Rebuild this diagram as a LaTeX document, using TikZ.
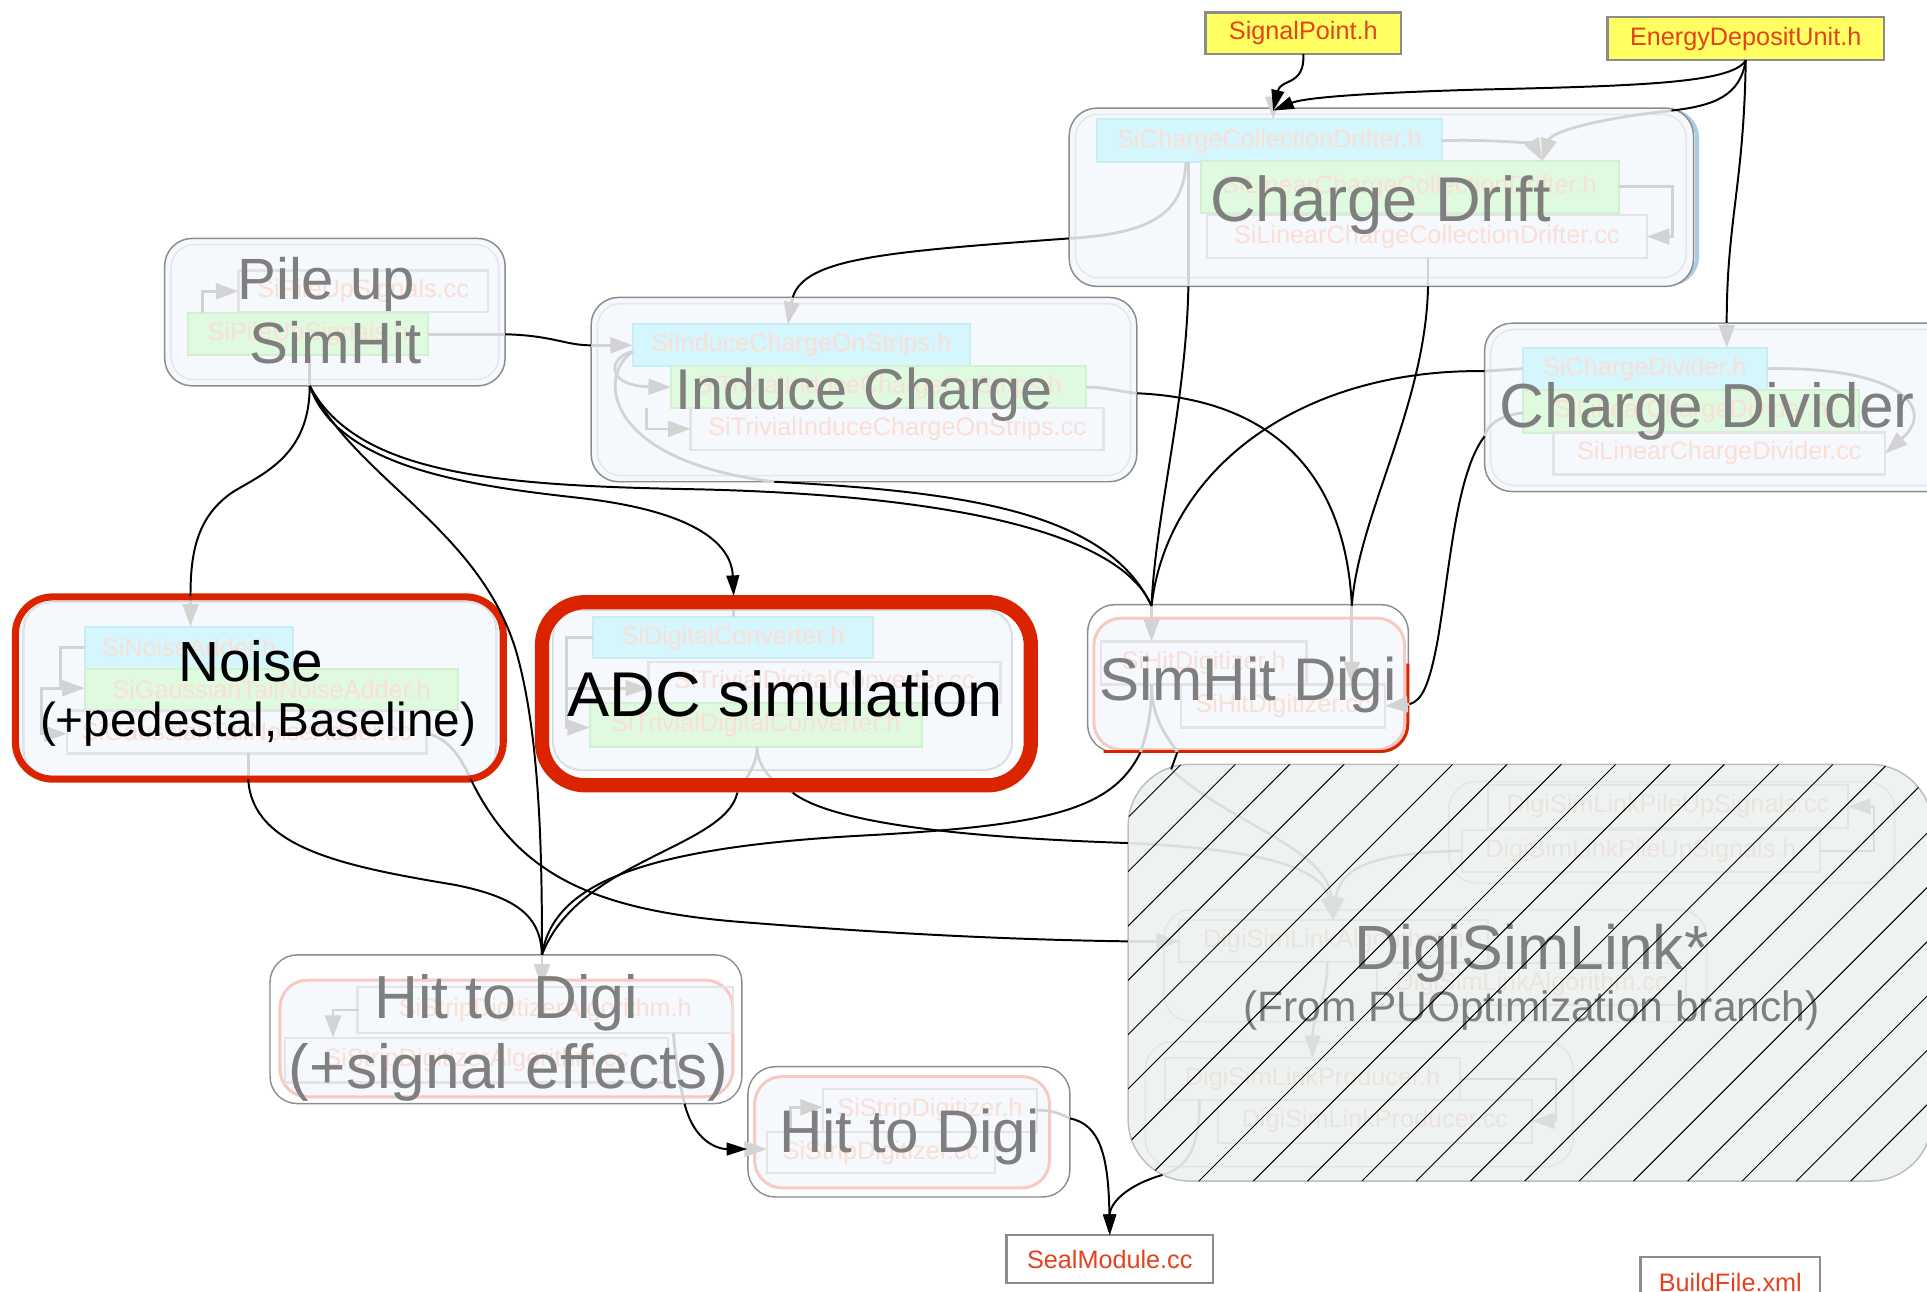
\documentclass[tikz,border=0pt]{standalone}
\usepackage{fontspec}
\setmainfont{Liberation Sans}
\usetikzlibrary{arrows.meta}

\definecolor{clfill}{HTML}{F5F8FC}
\definecolor{clline}{HTML}{8C8C8C}
\definecolor{clinner}{HTML}{E3E8EE}
\definecolor{hfill}{HTML}{D6F6FD}
\definecolor{hline}{HTML}{C8EDF6}
\definecolor{gfill}{HTML}{E0FADF}
\definecolor{gline}{HTML}{D2F0D2}
\definecolor{ccline}{HTML}{E4E4E4}
\definecolor{ftext}{HTML}{FADFD6}
\definecolor{lbltext}{HTML}{7F7F7F}
\definecolor{inedge}{HTML}{D3D3D3}
\definecolor{yfill}{HTML}{FFFF62}
\definecolor{ytext}{HTML}{E4411C}
\definecolor{redbd}{HTML}{DA2400}
\definecolor{pinkbd}{HTML}{F7C9C0}
\definecolor{dslfill}{HTML}{EEF2F1}
\definecolor{dslline}{HTML}{BEBEBE}
\definecolor{dsltext}{HTML}{EBE4DE}
\definecolor{dslbox}{HTML}{E2E6E6}
\definecolor{dsledge}{HTML}{DADEDE}
\definecolor{cdshadow}{HTML}{A9CCE3}

\newcommand\fsmall{\fontsize{7.3pt}{8pt}\selectfont}
\newcommand\fbig[1]{\fontsize{#1pt}{#1pt}\selectfont}

% node placed by its corners (x1,y1)-(x2,y2)
\newcommand\boxat[7]{\node[#1,minimum width={(#5-#3)*0.125mm},minimum height={(#6-#4)*0.125mm}] (#2) at ({(#3+#5)/2},{(#4+#6)/2}) {#7};}

\tikzset{
  every node/.style={inner sep=0pt, outer sep=0pt},
  cluster/.style={draw=clline, fill=clfill, line width=0.15mm, rounded corners=2.8mm},
  clin/.style={draw=clinner, line width=0.15mm, rounded corners=2.4mm},
  hbox/.style={draw=hline, fill=hfill, line width=0.2mm, font=\fsmall, text=ftext},
  gbox/.style={draw=gline, fill=gfill, line width=0.2mm, font=\fsmall, text=ftext},
  cbox/.style={draw=ccline, line width=0.25mm, font=\fsmall, text=ftext},
  dbox/.style={draw=dslbox, line width=0.2mm, font=\fsmall, text=dsltext},
  dsub/.style={draw=dslbox, line width=0.15mm, rounded corners=2.8mm},
  filebox/.style={draw=clline, fill=white, line width=0.25mm, font=\fsmall, text=ytext},
  ybox/.style={filebox, fill=yfill},
  lbl/.style={text=lbltext, anchor=base},
  blbl/.style={text=black, anchor=base},
  blk/.style={draw=black, line width=0.2mm},
  blkarr/.style={blk, -{Triangle[length=2.1mm,width=1.3mm]}},
  gry/.style={draw=inedge, line width=0.28mm},
  gryarr/.style={gry, -{Triangle[length=2.3mm,width=1.6mm]}},
  dgry/.style={draw=dsledge, line width=0.25mm},
  dgryarr/.style={dgry, -{Triangle[length=2.3mm,width=1.6mm]}},
  pinkin/.style={draw=pinkbd, fill=clfill, line width=0.3mm, rounded corners=2.8mm},
  hatchline/.style={draw=black, line width=0.28pt},
}

\begin{document}
\begin{tikzpicture}[x=0.125mm,y=-0.125mm]
\useasboundingbox (0,0) rectangle (1568,1051);
\fill[white] (0,0) rectangle (1568,1051);
\clip (0,0) rectangle (1568,1051);

% ---------- header files ----------
\boxat{ybox}{sp}{981}{10}{1140}{44}{SignalPoint.h}
\boxat{ybox}{edu}{1308}{14}{1533}{49}{EnergyDepositUnit.h}

% ---------- border crossing points ----------
\coordinate (cdT1) at (1036,90);
\coordinate (cdT2) at (1360,90);
\coordinate (cdL)  at (870,194);
\coordinate (cdB1) at (967,233);
\coordinate (cdB2) at (1162,233);
\coordinate (puR)  at (411,272);
\coordinate (puB)  at (252,314);
\coordinate (icL)  at (481,281);
\coordinate (icT)  at (645,242);
\coordinate (icR)  at (925,320);
\coordinate (icB)  at (630,392);
\coordinate (cvT)  at (1405,263);
\coordinate (cvL1) at (1208,302);
\coordinate (cvL2) at (1208,355);
\coordinate (sdT1) at (937,493);
\coordinate (sdT2) at (1100,493);
\coordinate (sdR)  at (1147,573);
\coordinate (sdB1) at (928,612);
\coordinate (sdB2) at (958,612);
\coordinate (noT)  at (155,485);
\coordinate (noB1) at (202,634);
\coordinate (noB2) at (383,634);
\coordinate (adT)  at (597,485);
\coordinate (adB1) at (600,645);
\coordinate (adB2) at (645,645);
\coordinate (hdaT) at (441,777);
\coordinate (hdaB) at (557,898);
\coordinate (hdbL) at (608,935);
\coordinate (hdbR) at (870.6,910);
\coordinate (dslL1) at (918,686);
\coordinate (dslL2) at (918,766);
\coordinate (dslT) at (953,626);
\coordinate (dslB) at (946,956);

% ---------- Charge Drift ----------
\draw[cdshadow, line width=0.4mm, rounded corners=2.8mm] (873,90) rectangle (1381,231);
\boxat{cluster}{cd}{870}{88}{1378}{233}{}
\draw[clin] (875,93) rectangle (1372,226);
\boxat{hbox}{cdh}{893}{97}{1173}{132}{SiChargeCollectionDrifter.h}
\boxat{gbox}{cdlh}{977}{131}{1317}{173}{SiLinearChargeCollectionDrifter.h}
\boxat{cbox}{cdcc}{982}{175}{1340}{210}{SiLinearChargeCollectionDrifter.cc}
\draw[gryarr] (cdT1) -- (cdT1 |- cdh.north);
\draw[gryarr] (cdh.east) .. controls (1220,113) and (1248,118) .. (1255,0 |- cdlh.north);
\draw[gryarr] (cdT2) .. controls (1295,97) and (1262,108) .. (1255,0 |- cdlh.north);
\draw[gryarr] (cdlh.east) -- (1361,0 |- cdlh.east) -- (1361,0 |- cdcc.east) -- (cdcc.east);
\draw[gry] (965,0 |- cdh.south) .. controls (963,175) and (935,190) .. (cdL);
\draw[gry] (967,0 |- cdh.south) -- (cdB1);
\draw[gry] (cdcc.south -| cdB2) -- (cdB2);
\node[lbl, font=\fbig{18.3}] (cdlbl) at (1123.5,180) {Charge Drift};

% ---------- Pile up ----------
\boxat{cluster}{pu}{134}{194}{411}{314}{}
\draw[clin] (139,199) rectangle (406,309);
\boxat{cbox}{pucc}{194}{220}{397}{254}{SiPileUpSignals.cc}
\boxat{gbox}{puh}{153}{255}{348}{289}{SiPileUpSignals.h}
\draw[gryarr] (165,0 |- puh.north) -- (165,237) -- (pucc.west |- 0,237);
\draw[gry] (puh.east) -- (puR);
\draw[gry] (puh.south -| puB) -- (puB);
\node[lbl, font=\fbig{16.85}] (pulbla) at (265.5,244) {Pile up};
\node[lbl, font=\fbig{16.85}] (pulblb) at (273,296) {SimHit};

% ---------- Induce Charge ----------
\boxat{cluster}{ic}{481}{242}{925}{392}{}
\draw[clin] (486,247) rectangle (920,387);
\boxat{hbox}{ich}{515}{264}{789}{298}{SiInduceChargeOnStrips.h}
\boxat{gbox}{icth}{546}{298}{884}{332}{SiTrivialInduceChargeOnStrips.h}
\boxat{cbox}{iccc}{562}{332}{898}{366}{SiTrivialInduceChargeOnStrips.cc}
\draw[gryarr] (icL) -- (ich.west |- icL);
\draw[gryarr] (icT) -- (641,0 |- ich.north);
\draw[gryarr] (ich.west |- 0,286) .. controls (495,290) and (492,314) .. (icth.west |- 0,315);
\draw[gryarr] (526,0 |- icth.south) -- (526,349) -- (iccc.west |- 0,349);
\draw[gry] (ich.west |- 0,286) .. controls (486,305) and (490,375) .. (icB);
\draw[gry] (icth.east) .. controls (900,315) and (912,319) .. (icR);
\node[lbl, font=\fbig{16.65}] (iclbl) at (703,333) {Induce Charge};

% ---------- Charge Divider ----------
\boxat{cluster}{cv}{1208}{263}{1600}{400}{}
\draw[clin] (1213,268) rectangle (1595,395);
\boxat{hbox}{cvh}{1239}{283}{1438}{317}{SiChargeDivider.h}
\boxat{gbox}{cvlh}{1239}{317}{1513}{352}{SiLinearChargeDivider.h}
\boxat{cbox}{cvcc}{1264}{352}{1534}{386}{SiLinearChargeDivider.cc}
\draw[gryarr] (cvT) -- (cvT |- cvh.north);
\draw[gryarr] (cvh.east) .. controls (1540,298) and (1578,330) .. (cvcc.east);
\draw[gry] (cvh.west) -- (cvL1);
\draw[gry] (cvlh.west |- 0,336) .. controls (1220,338) and (1210,346) .. (cvL2);
\node[lbl, font=\fbig{18.0}] (cvlbl) at (1389,348) {Charge Divider};

% ---------- SimHit Digi ----------
\boxat{cluster}{sd}{885}{492}{1146}{612}{}
\fill[white, rounded corners=2.6mm] (886,493) rectangle (1145,611);
\draw[pinkin] (890,503) rectangle (1143,610);
\draw[redbd, line width=0.3mm, rounded corners=2.8mm] (898,611.5) -- (1145.5,611.5) -- (1145.5,540);
\boxat{cbox}{sdh}{896}{522}{1063}{557}{SiHitDigitizer.h}
\boxat{cbox}{sdcc}{961}{557}{1127}{592}{SiHitDigitizer.cc}
\draw[gryarr] (sdT1) -- (sdT1 |- sdh.north);
\draw[gryarr] (sdT2) -- (sdT2 |- sdcc.north);
\draw[gryarr] (sdR) -- (sdcc.east);
\draw[gry] (937,0 |- sdh.south) .. controls (937,585) and (932,600) .. (sdB1);
\draw[gry] (937,0 |- sdh.south) .. controls (937,585) and (950,600) .. (sdB2);
\node[lbl, font=\fbig{17.4}] (sdlbl) at (1015.5,569.6) {SimHit Digi};

% ---------- Noise ----------
\boxat{cluster}{no}{19}{490}{404}{632}{}
\draw[draw=clinner, line width=0.15mm, rounded corners=2.8mm] (19,490) rectangle (404,632);
\boxat{hbox}{noh}{69}{510}{238.5}{544}{SiNoiseAdder.h}
\boxat{gbox}{nogh}{69}{544}{373}{578}{SiGaussianTailNoiseAdder.h}
\boxat{cbox}{nocc}{54.5}{578}{347}{613}{SiGaussianTailNoiseAdder.cc}
\draw[gryarr] (noT) -- (noT |- noh.north);
\draw[gryarr] (noh.west) -- (49,0 |- noh.west) -- (49,560) -- (nogh.west |- 0,560);
\draw[gryarr] (49,560) -- (34,560) -- (34,597) -- (nocc.west |- 0,597);
\draw[gry] (202,0 |- nocc.south) -- (noB1);
\draw[gry] (nocc.east |- 0,597) .. controls (365,600) and (376,618) .. (noB2);
\draw[redbd, line width=0.72mm, rounded corners=3.8mm] (12.5,485.7) rectangle (409.5,634);
\node[blbl, font=\fbig{16.4}] (nolbla) at (204,554.6) {Noise};
\node[blbl, font=\fbig{13.8}] (nolblb) at (210,599.6) {(+pedestal,Baseline)};

% ---------- ADC simulation ----------
\boxat{cluster}{ad}{450}{496}{823.5}{626.5}{}
\draw[draw=clinner, line width=0.15mm, rounded corners=2.8mm] (450,496) rectangle (823.5,626.5);
\boxat{hbox}{adh}{482.5}{502}{710.5}{535.5}{SiDigitalConverter.h}
\boxat{cbox}{adcc}{527.5}{538.5}{814}{572}{SiTrivialDigitalConverter.cc}
\boxat{gbox}{adth}{480}{572}{750}{607.5}{SiTrivialDigitalConverter.h}
\draw[gry] (adT) -- (adT |- adh.north);
\draw[gryarr] (adh.west) -- (461,0 |- adh.west) -- (461,592) -- (adth.west |- 0,592);
\draw[gryarr] (461,560) -- (adcc.west |- 0,560);
\draw[gry] (616,0 |- adth.south) .. controls (616,625) and (605,635) .. (adB1);
\draw[gry] (616,0 |- adth.south) .. controls (616,625) and (630,638) .. (adB2);
\draw[redbd, line width=1.45mm, rounded corners=4.4mm] (441,490) rectangle (838.8,639);
\node[blbl, font=\fbig{18.3}] (adlbl) at (639,583.4) {ADC simulation};

% ---------- Hit to Digi (+signal effects) ----------
\boxat{cluster}{hda}{219.7}{777}{603.7}{898}{}
\fill[white, rounded corners=2.6mm] (220.7,778) rectangle (602.7,897);
\draw[pinkin] (227.8,797.5) rectangle (596.4,892.5);
\boxat{cbox}{hdah}{291}{803}{596.4}{840.5}{SiStripDigitizerAlgorithm.h}
\boxat{cbox}{hdacc}{232}{844.6}{543.5}{881}{SiStripDigitizerAlgorithm.cc}
\draw[gryarr] (hdaT) -- (hdaT |- hdah.north);
\draw[gryarr] (hdah.west) -- (271,0 |- hdah.west) -- (271,0 |- hdacc.north);
\draw[gry] (548,0 |- hdah.south) .. controls (550,870) and (554,885) .. (hdaB);
\node[lbl, font=\fbig{17.6}] (hdalbla) at (412,828.6) {Hit to Digi};
\node[lbl, font=\fbig{18.0}] (hdalblb) at (414,885.6) {(+signal effects)};

% ---------- Hit to Digi ----------
\boxat{cluster}{hdb}{608.6}{868}{870.6}{974}{}
\fill[white, rounded corners=2.6mm] (609.6,869) rectangle (869.6,973);
\draw[pinkin] (614,876) rectangle (854,966.6);
\boxat{cbox}{hdbh}{669.6}{886}{843.8}{921}{SiStripDigitizer.h}
\boxat{cbox}{hdbcc}{624}{921}{809.6}{954.6}{SiStripDigitizer.cc}
\draw[gryarr] (hdbL) -- (hdbcc.west |- hdbL);
\draw[gryarr] (643,0 |- hdbcc.north) -- (643,901) -- (hdbh.west |- 0,901);
\draw[gry] (hdbh.east) .. controls (855,903) and (862,906) .. (hdbR);
\node[lbl, font=\fbig{17.4}] (hdblbl) at (740,938) {Hit to Digi};

% ---------- DigiSimLink ----------
\node[draw=dslline, fill=dslfill, line width=0.15mm, rounded corners=6.25mm,
      minimum width={(1572-918)*0.125mm}, minimum height={(961-622)*0.125mm}]
      (dsl) at ({(918+1572)/2},{(622+961)/2}) {};
\draw[dsub] (1179,636) rectangle (1541.6,718.5);
\draw[dsub] (947,740.4) rectangle (1388.7,831.3);
\draw[dsub] (932,847.6) rectangle (1280,949.3);
\boxat{dbox}{dplcc}{1210.5}{638.7}{1503.7}{673.7}{DigiSimLinkPileUpSignals.cc}
\boxat{dbox}{dplh}{1189.6}{675.3}{1480.8}{709.2}{DigiSimLinkPileUpSignals.h}
\boxat{dbox}{dah}{959.5}{748.6}{1210.7}{782.5}{DigiSimLinkAlgorithm.h}
\boxat{dbox}{dacc}{1120.7}{783.7}{1372}{817.7}{DigiSimLinkAlgorithm.cc}
\boxat{dbox}{dph}{948}{861}{1188}{895}{DigiSimLinkProducer.h}
\boxat{dbox}{dpcc}{991}{895}{1246.6}{930}{DigiSimLinkProducer.cc}
\draw[dgryarr] (dslL2) -- (dah.west |- dslL2);
\draw[dgryarr] (dslT) .. controls (1000,670) and (1080,690) .. (1085,0 |- dah.north);
\draw[dgryarr] (dslL1) .. controls (1000,690) and (1075,700) .. (1085,0 |- dah.north);
\draw[dgryarr] (dplh.west) .. controls (1120,694) and (1090,705) .. (1085,0 |- dah.north);
\draw[dgryarr] (dplh.east) -- (1525,0 |- dplh.east) -- (1525,0 |- dplcc.east) -- (dplcc.east);
\draw[dgryarr] (1080,0 |- dah.south) .. controls (1080,815) and (1068,825) .. (1068,0 |- dph.north);
\draw[dgryarr] (dph.east) -- (1266,0 |- dph.east) -- (1266,912) -- (dpcc.east |- 0,912);
\draw[dgry] (976,0 |- dph.south) .. controls (976,935) and (966,950) .. (dslB);
\node[lbl, font=\fbig{18.1}] (dsllbla) at (1246,789) {DigiSimLink*};
\node[lbl, font=\fbig{12.3}] (dsllblb) at (1246,831) {(From PUOptimization branch)};
% diagonal hatching over the whole group
\begin{scope}
  \clip[rounded corners=6.25mm] (918,622) rectangle (1572,961);
  \foreach \k in {0,...,26} \draw[hatchline] ({494.6+\k*44.2},1000) -- ++(480,-480);
\end{scope}

% ---------- source files ----------
\boxat{filebox}{seal}{819}{1005}{987}{1044}{SealModule.cc}
\boxat{filebox}{build}{1335}{1023}{1481}{1064}{BuildFile.xml}

% ---------- dependencies between groups ----------
\draw[blkarr] (sp.south) .. controls (1062,70) and (1042,64) .. (cdT1);
\draw[blkarr] (edu.south) .. controls (1410,68) and (1330,70) .. (1200,73) .. controls (1100,76) and (1060,80) .. (cdT1);
\draw[blk] (edu.south) .. controls (1416,78) and (1395,86) .. (cdT2);
\draw[blk] (edu.south) .. controls (1419,150) and (1405,180) .. (cvT);

\draw[blk] (cdL) .. controls (720,205) and (655,210) .. (icT);
\draw[blk] (cdB1) .. controls (965,330) and (940,420) .. (sdT1);
\draw[blk] (cdB2) .. controls (1160,330) and (1105,420) .. (sdT2);
\draw[blk] (puR) .. controls (450,273) and (460,281) .. (icL);
\draw[blk] (icR) .. controls (1040,325) and (1095,390) .. (sdT2);
\draw[blk] (icB) .. controls (780,400) and (900,415) .. (sdT1);
\draw[blk] (cvL1) .. controls (1060,300) and (950,380) .. (sdT1);
\draw[blk] (cvL2) .. controls (1185,385) and (1180,460) .. (1170,520) .. controls (1163,558) and (1157,570) .. (sdR);

\draw[blk] (puB) .. controls (252,370) and (215,385) .. (190,400) .. controls (160,420) and (155,450) .. (noT);
\draw[blkarr] (puB) .. controls (275,380) and (380,395) .. (470,405) .. controls (560,415) and (595,440) .. (adT);
\draw[blk] (puB) .. controls (290,390) and (390,430) .. (420,530) .. controls (440,600) and (441,700) .. (hdaT);
\draw[blk] (puB) .. controls (290,385) and (400,395) .. (560,398) .. controls (760,402) and (910,430) .. (sdT1);

\draw[blk] (sdB1) .. controls (905,660) and (850,672) .. (700,680) .. controls (520,690) and (450,720) .. (hdaT);
\draw[blk] (sdB2) -- (dslT);
\draw[blk] (adB1) .. controls (590,690) and (470,700) .. (hdaT);
\draw[blk] (adB2) .. controls (680,672) and (800,682) .. (dslL1);
\draw[blk] (noB1) .. controls (205,690) and (280,705) .. (370,720) .. controls (420,730) and (440,745) .. (hdaT);
\draw[blk] (noB2) .. controls (420,710) and (480,740) .. (600,750) .. controls (750,762) and (850,765) .. (dslL2);

\draw[blkarr] (hdaB) .. controls (565,930) and (585,935) .. (hdbL);
\draw[blkarr] (hdbR) .. controls (895,915) and (902,940) .. (seal.north);
\draw[blkarr] (dslB) .. controls (915,965) and (903,980) .. (seal.north);
\end{tikzpicture}
\end{document}
